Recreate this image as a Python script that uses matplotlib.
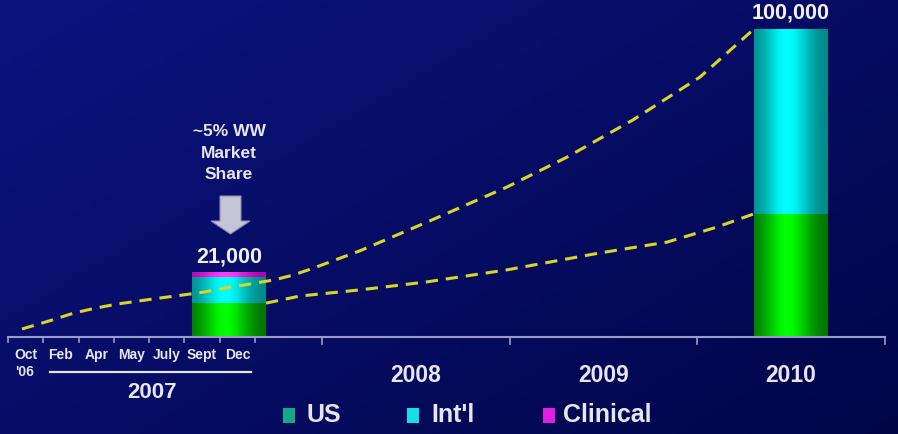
import numpy as np
import matplotlib.pyplot as plt
from matplotlib.patches import Polygon, Rectangle

# --- data ---------------------------------------------------------------
months = ['Oct', 'Feb', 'Apr', 'May', 'July', 'Sept', 'Dec']
years = ['2008', '2009', '2010']
bar_labels = ['21,000', '100,000']
us = [11000, 40000]
intl = [8500, 60000]
clinical = [1500, 0]

# projection curves (value at x position along the time strip)
upper_x = [22, 52, 74, 96, 117, 139, 161, 182, 204, 226, 250, 275, 293, 312,
           360, 427, 507, 567, 633, 700, 754]
upper_v = [2600, 5500, 7800, 9400, 10700, 11700, 12700, 13600, 14600, 15900,
           17200, 18600, 20100, 22200, 28000, 37300, 48700, 58400, 70500,
           84400, 100000]
lower_x = [266, 300, 360, 427, 507, 600, 667, 717, 754]
lower_v = [11000, 13300, 15300, 17900, 21800, 27300, 30800, 35700, 40000]

# --- layout -------------------------------------------------------------
W, H = 898, 434
base_px = 337                 # pixel row of the zero line
per_px = 100000 / 308         # value per pixel
bar_x = [229, 791]
bar_w = 74
month_ticks = np.linspace(8, 255, 8)
year_ticks = [322, 510, 697, 885]

fig = plt.figure(figsize=(W / 100, H / 100), dpi=100)
ax = fig.add_axes([0, 0, 1, 1])
ax.set_xlim(0, W)
ax.set_ylim(-(H - base_px) * per_px, base_px * per_px)
ax.axis('off')


def vy(py):
    # pixel row -> value units
    return (base_px - py) * per_px


# background gradient, lighter at top-left
gx, gy = np.meshgrid(np.linspace(0, 1, 200), np.linspace(0, 1, 100))
t = np.clip(0.55 * gx + 0.45 * gy, 0, 1)[..., None]
top = np.array([12, 20, 128]) / 255
bot = np.array([1, 5, 72]) / 255
bg = top * (1 - t) + bot * t
ax.imshow(bg, extent=(0, W, vy(H), vy(0)), aspect='auto', zorder=0)


def shaded(x0, x1, y0, y1, edge, mid):
    u = np.linspace(0, 1, 60)
    prof = np.exp(-((u - 0.45) / 0.32) ** 2)
    edge = np.array(edge) / 255
    mid = np.array(mid) / 255
    row = edge[None, :] * (1 - prof[:, None]) + mid[None, :] * prof[:, None]
    ax.imshow(row[None, :, :], extent=(x0, x1, y0, y1), aspect='auto',
              zorder=2, interpolation='bilinear')


# stacked cylinders
for i, xc in enumerate(bar_x):
    x0, x1 = xc - bar_w / 2, xc + bar_w / 2
    b = 0
    for val, edge, mid in [(us[i], (0, 110, 0), (0, 255, 0)),
                           (intl[i], (0, 130, 130), (0, 255, 255)),
                           (clinical[i], (170, 0, 170), (255, 60, 255))]:
        if val > 0:
            shaded(x0, x1, b, b + val, edge, mid)
        b += val
    ax.text(xc, b + 5 * per_px, bar_labels[i], ha='center', va='bottom',
            color='#f0f0f0', fontsize=15.5, fontweight='bold',
            family='Liberation Sans', zorder=5)

# dashed projections
dash = dict(color='#d8d428', lw=2.2, dashes=(4, 2.6), zorder=4)
ax.plot(upper_x, upper_v, **dash)
ax.plot(lower_x, lower_v, **dash)

# time axis
axis_c = '#9a9cc8'
ax.plot([8, 885], [0, 0], color=axis_c, lw=1.5, zorder=3)
for x in month_ticks:
    ax.plot([x, x], [0, vy(base_px + 5)], color=axis_c, lw=1.2, zorder=3)
for x in year_ticks:
    ax.plot([x, x], [0, vy(base_px + 7)], color=axis_c, lw=1.2, zorder=3)

txt = dict(color='#e6e6f2', fontweight='bold', family='Liberation Sans')
for i, m in enumerate(months):
    xc = (month_ticks[i] + month_ticks[i + 1]) / 2
    ax.text(xc, vy(355), m, ha='center', va='center', fontsize=10, **txt)
ax.text(25, vy(372), "'06", ha='center', va='center', fontsize=10, **txt)
ax.plot([50, 251], [vy(372), vy(372)], color='#e6e6f2', lw=1.6)
ax.text(152, vy(393), '2007', ha='center', va='center', fontsize=16, **txt)
for i, y in enumerate(years):
    xc = (year_ticks[i] + year_ticks[i + 1]) / 2
    ax.text(xc, vy(376), y, ha='center', va='center', fontsize=16.5, **txt)

# market share callout with block arrow
ax.text(229, vy(153), '~5% WW\nMarket\nShare', ha='center', va='center',
        fontsize=12.5, linespacing=1.55, **txt)
arrow = [(220, 196), (241, 196), (241, 221), (250, 221), (230.5, 234),
         (211, 221), (220, 221)]
ax.add_patch(Polygon([(x, vy(y)) for x, y in arrow], closed=True,
                     facecolor='#c4c6d8', edgecolor='#8a8ca8', lw=0.8,
                     zorder=5))

# legend
legend = [('US', '#12a888', 283, 306), ("Int'l", '#14e0e8', 407, 431),
          ('Clinical', '#e020e0', 543, 563)]
for name, col, sx, tx in legend:
    ax.add_patch(Rectangle((sx, vy(423)), 12, vy(408) - vy(423),
                           facecolor=col, edgecolor='none', zorder=5))
    ax.text(tx, vy(415), name, ha='left', va='center', fontsize=18, **txt)

fig.savefig('out.png', dpi=100)
